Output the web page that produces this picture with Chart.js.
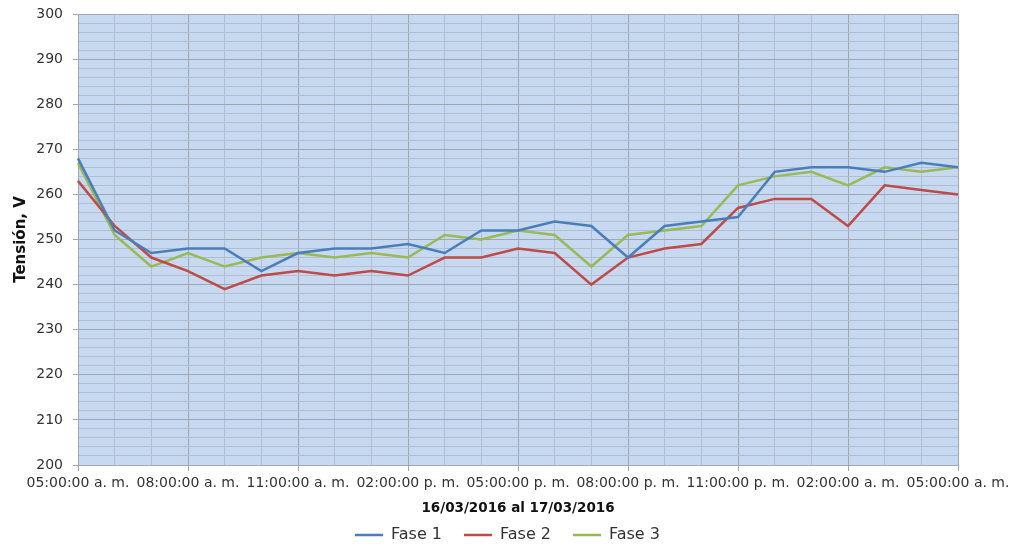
<!DOCTYPE html>
<html>
<head>
<meta charset="utf-8">
<script src="https://cdn.jsdelivr.net/npm/chart.js@4.4.1/dist/chart.umd.min.js"></script>
<style>
  html, body { margin: 0; padding: 0; background: #fff; }
</style>
</head>
<body>
<canvas id="chart" width="1015" height="544"></canvas>
<script>
// datos: una lectura por hora, 16/03/2016 05:00 a 17/03/2016 05:00
const horas = [
  '05:00:00 a. m.', '06:00:00 a. m.', '07:00:00 a. m.', '08:00:00 a. m.', '09:00:00 a. m.',
  '10:00:00 a. m.', '11:00:00 a. m.', '12:00:00 p. m.', '01:00:00 p. m.', '02:00:00 p. m.',
  '03:00:00 p. m.', '04:00:00 p. m.', '05:00:00 p. m.', '06:00:00 p. m.', '07:00:00 p. m.',
  '08:00:00 p. m.', '09:00:00 p. m.', '10:00:00 p. m.', '11:00:00 p. m.', '12:00:00 a. m.',
  '01:00:00 a. m.', '02:00:00 a. m.', '03:00:00 a. m.', '04:00:00 a. m.', '05:00:00 a. m.'
];
const fase1 = [268, 252, 247, 248, 248, 243, 247, 248, 248, 249, 247, 252, 252, 254, 253, 246, 253, 254, 255, 265, 266, 266, 265, 267, 266];
const fase2 = [263, 253, 246, 243, 239, 242, 243, 242, 243, 242, 246, 246, 248, 247, 240, 246, 248, 249, 257, 259, 259, 253, 262, 261, 260];
const fase3 = [267, 251, 244, 247, 244, 246, 247, 246, 247, 246, 251, 250, 252, 251, 244, 251, 252, 253, 262, 264, 265, 262, 266, 265, 266];

const yMin = 200;
const yMax = 300;
const yPaso = 2;      // lineas secundarias
const yPrincipal = 10; // lineas principales y etiquetas
const xCada = 3;       // una etiqueta cada 3 horas

const gridMayor = '#9ea7b3';
const gridMenor = '#b2bfd0';
const fuente = 'DejaVu Sans';

// fondo azul del area de trazado
const fondoPlot = {
  id: 'fondoPlot',
  beforeDraw(chart) {
    const { ctx, chartArea: a } = chart;
    ctx.save();
    ctx.fillStyle = '#c6d9f1';
    ctx.fillRect(a.left, a.top, a.right - a.left, a.bottom - a.top);
    ctx.restore();
  }
};

const serie = (label, data, color) => ({
  label: label,
  data: data,
  borderColor: color,
  backgroundColor: color,
  borderWidth: 2.5,
  pointRadius: 0,
  tension: 0,
  fill: false
});

new Chart(document.getElementById('chart'), {
  type: 'line',
  data: {
    labels: horas,
    datasets: [
      serie('Fase 1', fase1, '#4a7ebb'),
      serie('Fase 2', fase2, '#be4b48'),
      serie('Fase 3', fase3, '#98b954')
    ]
  },
  options: {
    responsive: false,
    animation: false,
    layout: { padding: { top: 14, right: 0, left: 0, bottom: -9 } },
    scales: {
      x: {
        afterFit: (s) => { s.height = 544 - 465 - s.chart.legend.height + 9; },
        grid: {
          color: (c) => (c.index % xCada === 0 ? gridMayor : gridMenor),
          tickColor: (c) => (c.index % xCada === 0 ? gridMayor : 'rgba(0,0,0,0)'),
          tickLength: 6,
          lineWidth: 1
        },
        border: { color: gridMayor },
        ticks: {
          autoSkip: false,
          maxRotation: 0,
          minRotation: 0,
          padding: 4,
          color: '#333',
          font: { family: fuente, size: 14 },
          callback: (v, i) => (i % xCada === 0 ? horas[i] : '')
        },
        title: {
          display: true,
          text: '16/03/2016 al 17/03/2016',
          color: '#111',
          font: { family: fuente, size: 13.5, weight: 'bold' },
          padding: { top: 0, bottom: -12 }
        }
      },
      y: {
        min: yMin,
        max: yMax,
        afterFit: (s) => { s.width = 78; s.paddingTop = 0; s.paddingBottom = 0; },
        grid: {
          color: (c) => (c.tick.value % yPrincipal === 0 ? gridMayor : gridMenor),
          tickColor: (c) => (c.tick.value % yPrincipal === 0 ? gridMayor : 'rgba(0,0,0,0)'),
          tickLength: 5,
          lineWidth: 1
        },
        border: { color: gridMayor },
        ticks: {
          stepSize: yPaso,
          autoSkip: false,
          padding: 10,
          color: '#333',
          font: { family: fuente, size: 14 },
          callback: (v) => (v % yPrincipal === 0 ? v : '')
        },
        title: {
          display: true,
          text: 'Tensión, V',
          color: '#111',
          font: { family: fuente, size: 15, weight: 'bold' },
          padding: { top: 12, bottom: 0 }
        }
      },
      // eje vacio a la derecha: solo reserva el margen
      margen: {
        position: 'right',
        min: yMin,
        max: yMax,
        afterFit: (s) => { s.width = 57; s.paddingTop = 0; s.paddingBottom = 0; },
        grid: { display: false, drawTicks: false },
        border: { display: false },
        ticks: { display: false }
      }
    },
    plugins: {
      legend: {
        position: 'bottom',
        labels: {
          usePointStyle: true,
          pointStyle: 'line',
          pointStyleWidth: 28,
          color: '#333',
          padding: 22,
          font: { family: fuente, size: 16 }
        }
      },
      tooltip: { enabled: false }
    }
  },
  plugins: [fondoPlot]
});
</script>
</body>
</html>
